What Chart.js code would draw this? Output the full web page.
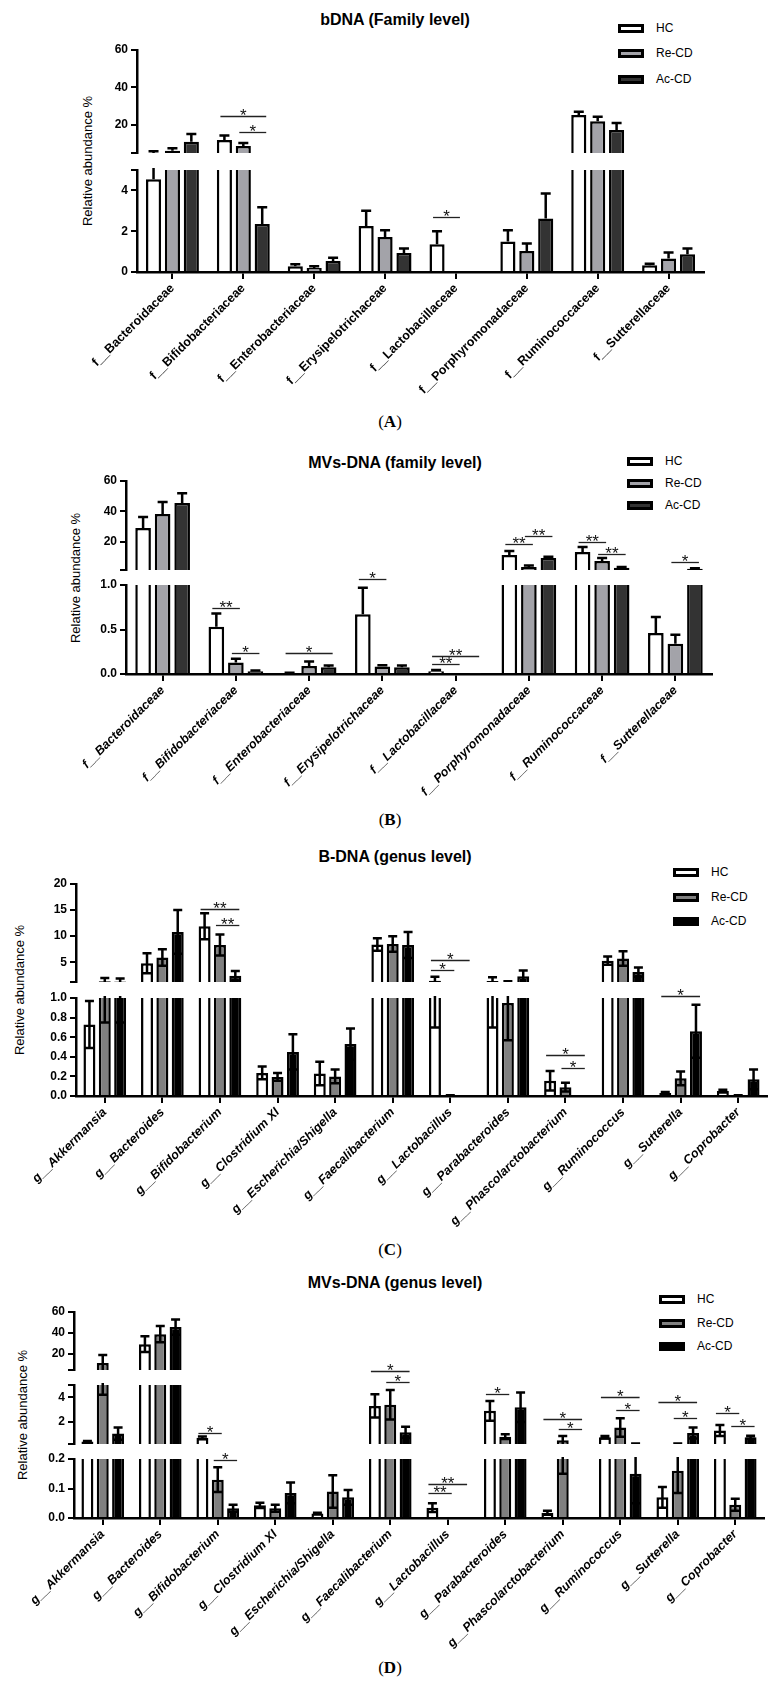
<!DOCTYPE html>
<html>
<head>
<meta charset="utf-8">
<script src="https://cdn.jsdelivr.net/npm/chart.js@4.4.1/dist/chart.umd.min.js"></script>
<style>
  body { margin: 0; width: 782px; height: 1682px; position: relative; overflow: hidden; background: #fff;
         font-family: "Liberation Sans", Arial, sans-serif; color: #000; }
  canvas { position: absolute; left: 0; }
  .title { position: absolute; font-weight: bold; font-size: 16px; transform: translate(-50%, -50%); white-space: nowrap; }
  .ytitle { position: absolute; font-size: 13px; white-space: nowrap; transform: translate(-50%, -50%) rotate(-90deg); }
  .letter { position: absolute; font-family: "Liberation Serif", "Times New Roman", serif; font-size: 17px; transform: translate(-50%, -50%); }
  .lg { position: absolute; font-size: 12px; white-space: nowrap; }
  .lg span { display: inline-block; width: 26px; height: 9px; border: 3px solid #000; box-sizing: border-box; vertical-align: middle; margin-right: 12px; }
</style>
</head>
<body>
<script>
const groups = ["HC", "Re-CD", "Ac-CD"];

const familyLabels = ["f__Bacteroidaceae", "f__Bifidobacteriaceae", "f__Enterobacteriaceae", "f__Erysipelotrichaceae",
  "f__Lactobacillaceae", "f__Porphyromonadaceae", "f__Ruminococcaceae", "f__Sutterellaceae"];
const genusLabels = ["g__Akkermansia", "g__Bacteroides", "g__Bifidobacterium", "g__Clostridium XI", "g__Escherichia/Shigella",
  "g__Faecalibacterium", "g__Lactobacillus", "g__Parabacteroides", "g__Phascolarctobacterium", "g__Ruminococcus",
  "g__Sutterella", "g__Coprobacter"];

// (A) bDNA family level
const aHC = [4.55, 12.0, 0.28, 2.25, 1.36, 1.5, 25.3, 0.33];
const aHCsem = [1.4, 2.3, 0.1, 0.75, 0.64, 0.55, 1.7, 0.07];
const aRe = [6.2, 8.8, 0.2, 1.72, 0, 1.03, 22.0, 0.66];
const aResem = [1.3, 1.6, 0.08, 0.33, 0, 0.37, 2.3, 0.29];
const aAc = [11.0, 2.35, 0.54, 0.93, 0, 2.62, 17.3, 0.87];
const aAcsem = [4.2, 0.82, 0.16, 0.22, 0, 1.23, 3.7, 0.28];
// [category, from group, to group, height, text, segment]
const aSig = [[1, 0, 2, 24.8, "*", 0], [1, 1, 2, 16.3, "*", 0], [4, 0, 1, 2.7, "*", 1]];
const aRanges = [[5, 60], [0, 5]];
const aTicks = [[20, 40, 60], [0, 2, 4]];

// (B) MVs-DNA family level
const bHC = [29.2, 0.53, 0.01, 0.67, 0.03, 11.5, 13.4, 0.46];
const bHCsem = [7.2, 0.15, 0.003, 0.3, 0.015, 2.6, 3.3, 0.18];
const bRe = [38.4, 0.13, 0.09, 0.085, 0, 3.6, 7.5, 0.34];
const bResem = [7.8, 0.04, 0.05, 0.012, 0, 1.0, 2.0, 0.1];
const bAc = [45.6, 0.03, 0.075, 0.075, 0.003, 9.5, 3.0, 2.4];
const bAcsem = [6.4, 0.01, 0.02, 0.02, 0, 0.8, 0.6, 0.4];
const bSig = [[1, 0, 1, 0.74, "**", 1], [1, 1, 2, 0.24, "*", 1], [2, 0, 2, 0.24, "*", 1], [3, 0, 1, 1.07, "*", 1],
  [4, 0, 2, 0.2, "**", 1], [4, 0, 1, 0.11, "**", 1], [5, 0, 1, 18.7, "**", 0], [5, 1, 2, 23.9, "**", 0],
  [6, 0, 1, 20, "**", 0], [6, 1, 2, 12, "**", 0], [7, 1, 2, 6.9, "*", 0]];
const bRanges = [[1.6, 60], [0, 1]];
const bTicks = [[20, 40, 60], [0, 0.5, 1]];

// (C) B-DNA genus level
const cHC = [0.73, 4.8, 11.9, 0.235, 0.23, 8.4, 1.45, 1.4, 0.155, 5.3, 0.03, 0.05];
const cHCsem = [0.24, 1.9, 2.5, 0.065, 0.12, 1.2, 0.75, 0.7, 0.1, 0.8, 0.01, 0.015];
const cRe = [1.35, 5.9, 8.3, 0.195, 0.2, 8.5, 0.005, 0.95, 0.09, 5.7, 0.18, 0.005];
const cResem = [0.6, 1.6, 2.0, 0.04, 0.07, 1.5, 0.002, 0.38, 0.045, 1.4, 0.07, 0.002];
const cAc = [1.3, 10.8, 2.4, 0.45, 0.53, 8.3, 0, 2.3, 0, 3.1, 0.66, 0.17];
const cAcsem = [0.55, 4.2, 0.9, 0.18, 0.16, 2.5, 0, 1.1, 0, 0.9, 0.27, 0.1];
const cSig = [[2, 0, 2, 15.2, "**", 0], [2, 1, 2, 12.1, "**", 0], [6, 0, 2, 5.4, "*", 0], [6, 0, 1, 3.5, "*", 0],
  [8, 0, 2, 0.42, "*", 1], [8, 1, 2, 0.29, "*", 1], [10, 0, 2, 1.02, "*", 1]];
const cRanges = [[1.2, 20], [0, 1]];
const cTicks = [[5, 10, 15, 20], [0, 0.2, 0.4, 0.6, 0.8, 1]];

// (D) MVs-DNA genus level
const dHC = [0.4, 29.5, 0.7, 0.043, 0.015, 3.3, 0.035, 2.9, 0.018, 0.75, 0.07, 1.3];
const dHCsem = [0.05, 7.5, 0.12, 0.009, 0.003, 0.95, 0.015, 0.8, 0.007, 0.1, 0.035, 0.45];
const dRe = [11.7, 39, 0.13, 0.033, 0.09, 3.4, 0, 0.8, 0.5, 1.55, 0.16, 0.045];
const dResem = [7.5, 7.7, 0.042, 0.012, 0.055, 1.2, 0, 0.2, 0.35, 0.75, 0.075, 0.02];
const dAc = [1.05, 45.7, 0.033, 0.085, 0.07, 1.15, 0.002, 3.2, 0.002, 0.15, 1.1, 0.75];
const dAcsem = [0.5, 7.3, 0.012, 0.035, 0.025, 0.45, 0, 1.2, 0, 0.1, 0.45, 0.12];
const dSig = [[2, 0, 1, 1.07, "*", 1], [2, 1, 2, 0.195, "*", 2], [5, 0, 2, 6.1, "*", 1], [5, 1, 2, 5.25, "*", 1],
  [6, 0, 2, 0.115, "**", 2], [6, 0, 1, 0.085, "**", 2], [7, 0, 1, 4.25, "*", 1], [8, 0, 2, 2.2, "*", 1],
  [8, 1, 2, 1.4, "*", 1], [9, 0, 2, 4.0, "*", 1], [9, 1, 2, 3.0, "*", 1], [10, 0, 2, 3.6, "*", 1],
  [10, 1, 2, 2.3, "*", 1], [11, 0, 1, 2.7, "*", 1], [11, 1, 2, 1.65, "*", 1]];
const dRanges = [[5, 60], [0.2, 5], [0, 0.2]];
const dTicks = [[20, 40, 60], [2, 4], [0, 0.1, 0.2]];

// error bars, drawn with the chart's own y scale and bar positions
const errorBars = {
  id: "errorBars",
  afterDatasetsDraw(chart, args, opts) {
    const ctx = chart.ctx, a = chart.chartArea, y = chart.scales.y;
    ctx.save();
    ctx.beginPath();
    ctx.rect(a.left, a.top - 2, a.right - a.left, a.bottom - a.top + 2);
    ctx.clip();
    ctx.strokeStyle = "#000";
    ctx.lineWidth = 2.5;
    chart.data.datasets.forEach((ds, d) => {
      const meta = chart.getDatasetMeta(d);
      ds.errors.forEach((e, i) => {
        if (!e) return;
        const v = ds.data[i], x = meta.data[i].x;
        const low = opts.both ? v - e : v;
        // nothing of this bar's error reaches the segment
        if (v + e <= y.min || low >= y.max) return;
        const hi = y.getPixelForValue(v + e);
        const lo = y.getPixelForValue(Math.max(low, y.min));
        ctx.beginPath();
        ctx.moveTo(x, lo); ctx.lineTo(x, hi);
        ctx.moveTo(x - opts.cap, hi); ctx.lineTo(x + opts.cap, hi);
        if (opts.both && low > y.min) { ctx.moveTo(x - opts.cap, lo); ctx.lineTo(x + opts.cap, lo); }
        ctx.stroke();
      });
    });
    ctx.restore();
  }
};

// significance brackets
const sigMarks = {
  id: "sigMarks",
  afterDraw(chart, args, opts) {
    const ctx = chart.ctx, y = chart.scales.y;
    ctx.save();
    ctx.strokeStyle = "#222";
    ctx.fillStyle = "#111";
    ctx.lineWidth = 1.3;
    ctx.font = '17px "Liberation Sans", Arial, sans-serif';
    ctx.textAlign = "center";
    ctx.textBaseline = "alphabetic";
    opts.marks.forEach(([cat, g1, g2, val, txt, seg]) => {
      if (seg !== opts.seg) return;
      const x1 = chart.getDatasetMeta(g1).data[cat].x - 4;
      const x2 = chart.getDatasetMeta(g2).data[cat].x + 4;
      const py = Math.round(y.getPixelForValue(val)) + 0.5;
      ctx.beginPath(); ctx.moveTo(x1, py); ctx.lineTo(x2, py); ctx.stroke();
      ctx.fillText(txt, (x1 + x2) / 2, py + 4);
    });
    ctx.restore();
  }
};

function addText(cls, html, x, y) {
  const el = document.createElement("div");
  el.className = cls;
  el.innerHTML = html;
  el.style.left = x + "px";
  el.style.top = y + "px";
  document.body.appendChild(el);
}

function fmt(v, dec) { return dec ? v.toFixed(1) : String(v); }

function drawPanel(p) {
  addText("title", p.title, 395, p.titleY);
  addText("ytitle", "Relative abundance %", p.yTitleX, (p.segs[0].top + p.segs[p.segs.length - 1].bottom) / 2);
  addText("letter", p.letter, 390, p.letterY);
  groups.forEach((g, k) => {
    const el = document.createElement("div");
    el.className = "lg";
    el.innerHTML = '<span style="background:' + p.colors[k] + '"></span>' + g;
    el.style.left = p.legendX + "px";
    el.style.top = (p.legendY[k] - 7) + "px";
    document.body.appendChild(el);
  });

  p.segs.forEach((seg, s) => {
    const bottomSeg = s === p.segs.length - 1;
    const padTop = 30, padBot = bottomSeg ? 0 : 12, labelH = bottomSeg ? 145 : 0;
    const cv = document.createElement("canvas");
    cv.width = 782;
    cv.height = seg.bottom - seg.top + padTop + padBot + labelH;
    cv.style.top = (seg.top - padTop) + "px";
    document.body.appendChild(cv);

    const tickVals = p.ranges[s].concat(p.ticks[s]).filter((v, i, arr) => arr.indexOf(v) === i).sort((a, b) => a - b);

    new Chart(cv, {
      type: "bar",
      data: {
        labels: p.labels,
        datasets: p.series.map((sr, k) => ({
          label: groups[k],
          data: sr[0],
          errors: sr[1],
          backgroundColor: p.colors[k],
          borderColor: "#000",
          borderWidth: 2.5,
          categoryPercentage: 0.8,
          barPercentage: p.barPct,
          clip: { left: 10, right: 10, top: 0, bottom: 0 }
        }))
      },
      options: {
        responsive: false,
        animation: false,
        events: [],
        layout: { padding: { left: 0, right: 782 - p.right, top: padTop, bottom: padBot } },
        plugins: {
          legend: { display: false },
          tooltip: { enabled: false },
          errorBars: { both: p.both, cap: p.cap },
          sigMarks: { marks: p.sig, seg: s }
        },
        scales: {
          x: {
            display: bottomSeg,
            grid: { offset: false, drawOnChartArea: false, color: "#000", lineWidth: 2, tickLength: 7 },
            border: { color: "#000", width: 2.5 },
            ticks: {
              autoSkip: false, minRotation: 45, maxRotation: 45, padding: 2, color: "#000",
              font: { family: '"Liberation Sans", Arial, sans-serif', size: 12.5, weight: "bold", style: p.italic ? "italic" : "normal" }
            },
            afterFit: sc => { sc.height = labelH; }
          },
          y: {
            min: p.ranges[s][0],
            max: p.ranges[s][1],
            afterBuildTicks: sc => { sc.ticks = tickVals.map(v => ({ value: v })); },
            afterFit: sc => { sc.width = p.axisX; },
            grid: { drawOnChartArea: false, color: "#000", lineWidth: 2, tickLength: 6 },
            border: { color: "#000", width: 2.5 },
            ticks: {
              padding: 3, color: "#000",
              font: { family: '"Liberation Sans", Arial, sans-serif', size: 12, weight: "bold" },
              callback: v => p.ticks[s].includes(v) ? fmt(v, p.decimals[s]) : ""
            }
          }
        }
      },
      plugins: [errorBars, sigMarks]
    });
  });
}

const greyAB = ["#ffffff", "#a3a3a9", "#333333"];
const greyCD = ["#ffffff", "#808080", "#000000"];

drawPanel({
  title: "bDNA (Family level)", titleY: 20, letter: "(<b>A</b>)", letterY: 422,
  yTitleX: 87, legendX: 618, legendY: [28, 53, 79], colors: greyAB,
  labels: familyLabels, italic: false, axisX: 137, right: 704, barPct: 0.8, both: false, cap: 5,
  series: [[aHC, aHCsem], [aRe, aResem], [aAc, aAcsem]], sig: aSig,
  ranges: aRanges, ticks: aTicks, decimals: [false, false],
  segs: [{ top: 50, bottom: 153 }, { top: 170, bottom: 272 }]
});

drawPanel({
  title: "MVs-DNA (family level)", titleY: 463, letter: "(<b>B</b>)", letterY: 820,
  yTitleX: 75, legendX: 627, legendY: [461, 483, 505], colors: greyAB,
  labels: familyLabels, italic: true, axisX: 126, right: 712, barPct: 0.8, both: false, cap: 5,
  series: [[bHC, bHCsem], [bRe, bResem], [bAc, bAcsem]], sig: bSig,
  ranges: bRanges, ticks: bTicks, decimals: [false, true],
  segs: [{ top: 481, bottom: 570 }, { top: 585, bottom: 674 }]
});

drawPanel({
  title: "B-DNA (genus level)", titleY: 857, letter: "(<b>C</b>)", letterY: 1250,
  yTitleX: 19, legendX: 673, legendY: [872, 897, 921], colors: greyCD,
  labels: genusLabels, italic: true, axisX: 76, right: 767, barPct: 0.78, both: true, cap: 4.5,
  series: [[cHC, cHCsem], [cRe, cResem], [cAc, cAcsem]], sig: cSig,
  ranges: cRanges, ticks: cTicks, decimals: [false, true],
  segs: [{ top: 884, bottom: 982 }, { top: 998, bottom: 1096 }]
});

drawPanel({
  title: "MVs-DNA (genus level)", titleY: 1283, letter: "(<b>D</b>)", letterY: 1668,
  yTitleX: 22, legendX: 659, legendY: [1299, 1323, 1346], colors: greyCD,
  labels: genusLabels, italic: true, axisX: 74, right: 764, barPct: 0.78, both: true, cap: 4.5,
  series: [[dHC, dHCsem], [dRe, dResem], [dAc, dAcsem]], sig: dSig,
  ranges: dRanges, ticks: dTicks, decimals: [false, false, true],
  segs: [{ top: 1312, bottom: 1370 }, { top: 1385, bottom: 1444 }, { top: 1459, bottom: 1518 }]
});
</script>
</body>
</html>
